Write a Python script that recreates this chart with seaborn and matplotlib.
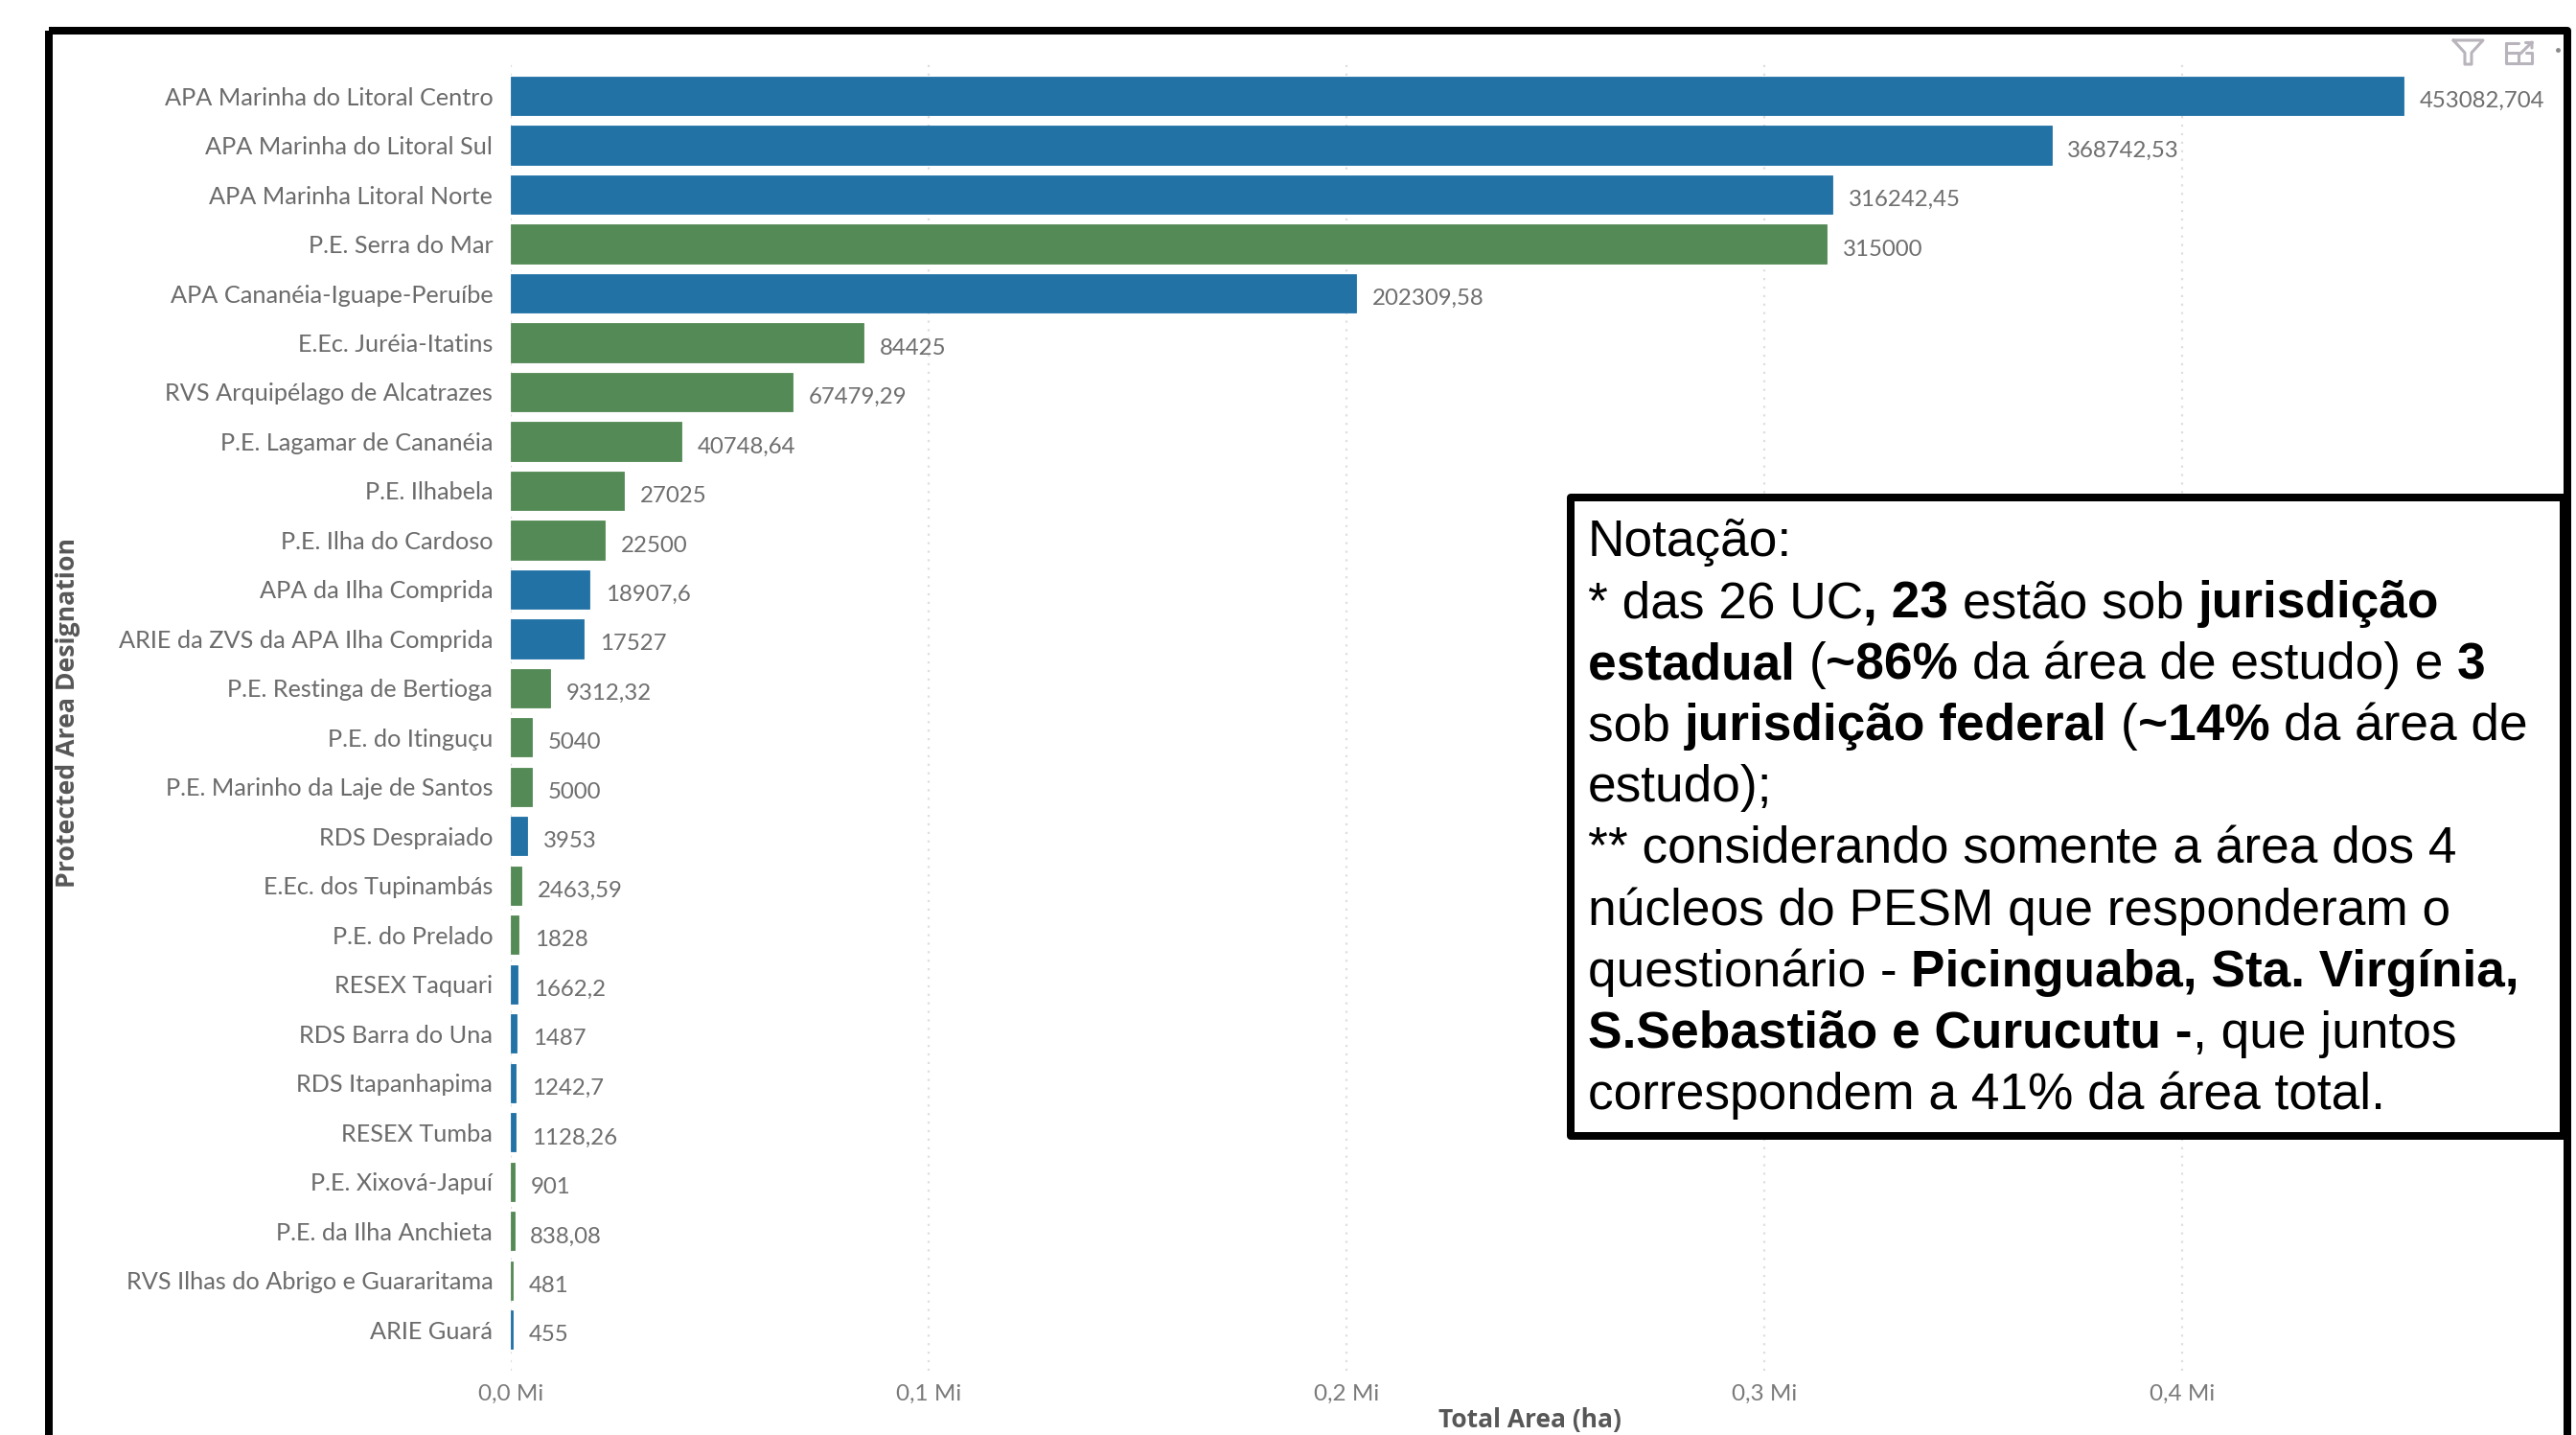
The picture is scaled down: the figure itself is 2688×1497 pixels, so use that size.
import matplotlib
matplotlib.use("Agg")
import matplotlib.pyplot as plt
from matplotlib.patches import Rectangle
import pandas as pd
import seaborn as sns

# Protected areas, total area in hectares
areas = [
    "APA Marinha do Litoral Centro", "APA Marinha do Litoral Sul", "APA Marinha Litoral Norte",
    "P.E. Serra do Mar", "APA Cananéia-Iguape-Peruíbe", "E.Ec. Juréia-Itatins",
    "RVS Arquipélago de Alcatrazes", "P.E. Lagamar de Cananéia", "P.E. Ilhabela",
    "P.E. Ilha do Cardoso", "APA da Ilha Comprida", "ARIE da ZVS da APA Ilha Comprida",
    "P.E. Restinga de Bertioga", "P.E. do Itinguçu", "P.E. Marinho da Laje de Santos",
    "RDS Despraiado", "E.Ec. dos Tupinambás", "P.E. do Prelado", "RESEX Taquari",
    "RDS Barra do Una", "RDS Itapanhapima", "RESEX Tumba", "P.E. Xixová-Japuí",
    "P.E. da Ilha Anchieta", "RVS Ilhas do Abrigo e Guararitama", "ARIE Guará",
]
total_area = [
    453082.704, 368742.53, 316242.45, 315000, 202309.58, 84425, 67479.29, 40748.64,
    27025, 22500, 18907.6, 17527, 9312.32, 5040, 5000, 3953, 2463.59, 1828, 1662.2,
    1487, 1242.7, 1128.26, 901, 838.08, 481, 455,
]
# U = sustainable use, P = full protection
group = list("UUUPUPPPPPUUPPPUPPUUUUPPPU")
group_colors = {"U": "#2272A6", "P": "#548A55"}
x_ticks = [0, 100000, 200000, 300000, 400000]
x_tick_labels = ["0,0 Mi", "0,1 Mi", "0,2 Mi", "0,3 Mi", "0,4 Mi"]

note_lines = [
    [("Notação:", False)],
    [("* das 26 UC", False), (", 23 ", True), ("estão sob ", False), ("jurisdição", True)],
    [("estadual ", True), ("(", False), ("~86% ", True), ("da área de estudo) e ", False), ("3", True)],
    [("sob ", False), ("jurisdição federal ", True), ("(", False), ("~14% ", True), ("da área de", False)],
    [("estudo);", False)],
    [("** considerando somente a área dos 4", False)],
    [("núcleos do PESM que responderam o", False)],
    [("questionário - ", False), ("Picinguaba, Sta. Virgínia,", True)],
    [("S.Sebastião e Curucutu -", True), (", que juntos", False)],
    [("correspondem a 41% da área total.", False)],
]

W, H, DPI = 2688, 1497, 100
sns.set_theme(style="white")
plt.rcParams["font.family"] = ["Lato", "DejaVu Sans"]

df = pd.DataFrame({"area": areas, "total": total_area, "group": group})
fig = plt.figure(figsize=(W / DPI, H / DPI), dpi=DPI, facecolor="white")

# Chart region, given in pixels of the final image
left, right, top, bottom = 533, 2675, 63, 1430
ax = fig.add_axes([left / W, 1 - bottom / H, (right - left) / W, (bottom - top) / H])
sns.barplot(data=df, y="area", x="total", hue="group", palette=group_colors, dodge=False,
            width=0.78, legend=False, ax=ax, saturation=1)
for bar in ax.patches:
    bar.set_edgecolor(bar.get_facecolor())
    bar.set_linewidth(0.6)
ax.set_xlim(0, (right - left) / 436 * 100000)
ax.set_ylim(25.83, -0.72)
for s in ax.spines.values():
    s.set_visible(False)
ax.set_xticks(x_ticks, x_tick_labels)
ax.grid(axis="x", color="#DEDEDE", linestyle=(0, (1, 3)), linewidth=1.6)
ax.set_axisbelow(True)
ax.tick_params(axis="x", length=0, pad=10, labelsize=17.5, labelcolor="#7A7A7A")
ax.tick_params(axis="y", length=0, pad=13.5, labelsize=18.2, labelcolor="#6B6B6B")
ax.set_xlabel("")
ax.set_ylabel("")

for i, v in enumerate(total_area):
    ax.annotate(str(v).replace(".", ","), (v, i), xytext=(12, -4), textcoords="offset points",
                ha="left", va="center", fontsize=17.3, color="#6E6E6E")

# Overlay in image pixels for the frame, note box and header icons
ov = fig.add_axes([0, 0, 1, 1], zorder=5)
ov.set_xlim(0, W)
ov.set_ylim(H, 0)
ov.axis("off")
ov.patch.set_alpha(0)

AXIS_TITLE_FONT = ["Open Sans", "DejaVu Sans"]
ov.text(1596, 1489, "Total Area (ha)", ha="center", va="baseline", fontsize=19,
        fontweight="bold", color="#575757", family=AXIS_TITLE_FONT)
ov.text(71, 744, "Protected Area Designation", rotation=90, ha="center", va="center",
        fontsize=19.2, fontweight="bold", color="#575757", family=AXIS_TITLE_FONT)

BORDER = 8 * 72 / DPI
ov.add_patch(Rectangle((51, 32), 2628, 1500, fill=False, edgecolor="black", linewidth=BORDER,
                       joinstyle="round"))
ov.add_patch(Rectangle((1639, 519), 1036, 666, facecolor="white", edgecolor="black",
                       linewidth=BORDER, joinstyle="round"))

# Note text built from regular and bold runs on shared baselines
renderer = fig.canvas.get_renderer()
NOTE_FONT = ["Liberation Sans", "DejaVu Sans"]
NOTE_SIZE = 38.3


def run_width(text, weight):
    probe = ov.text(0, 0, "x" + text + "x", fontsize=NOTE_SIZE, fontweight=weight, family=NOTE_FONT)
    base = ov.text(0, 0, "xx", fontsize=NOTE_SIZE, fontweight=weight, family=NOTE_FONT)
    w = probe.get_window_extent(renderer).width - base.get_window_extent(renderer).width
    probe.remove()
    base.remove()
    return w


for n, line in enumerate(note_lines):
    x = 1657
    y = 580 + n * 64.1
    for frag, is_bold in line:
        weight = "bold" if is_bold else "normal"
        ov.text(x, y, frag, fontsize=NOTE_SIZE, fontweight=weight, family=NOTE_FONT,
                ha="left", va="baseline", color="black")
        x += run_width(frag, weight)

# Header icons of the visual: funnel, expand, overflow dot
icon = dict(color="#B9B4BC", linewidth=2.2, solid_joinstyle="round")
ov.plot([2560, 2591, 2579, 2579, 2572, 2572, 2560], [42, 42, 55, 67, 67, 55, 42], **icon)
ov.plot([2615, 2628], [45, 45], **icon)
ov.plot([2615, 2615, 2642, 2642, 2636], [45, 66, 66, 55, 55], **icon)
ov.plot([2615, 2628, 2628], [55, 55, 66], **icon)
ov.plot([2630, 2642, 2642], [56, 44, 50], **icon)
ov.plot([2635, 2642], [44, 44], **icon)
ov.plot([2669], [52], marker="o", markersize=2.5, color="#8A8A8A")

fig.savefig("out.png", dpi=DPI, facecolor="white")
